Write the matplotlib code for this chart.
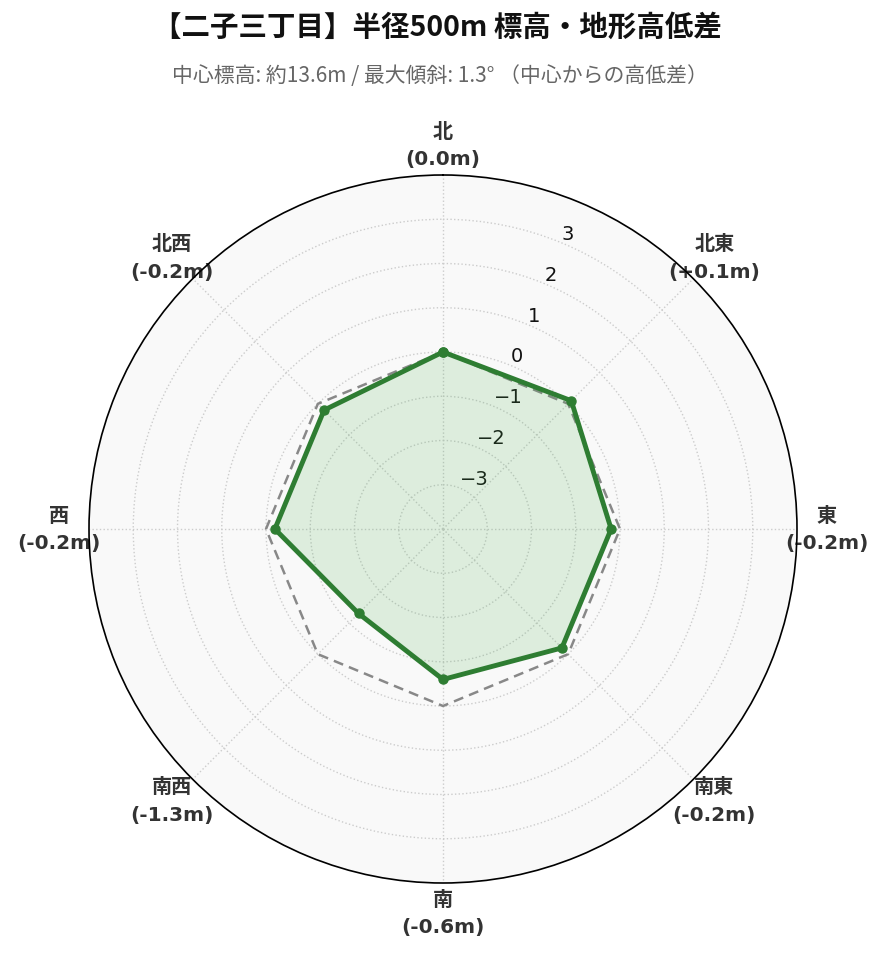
import numpy as np
import matplotlib.pyplot as plt

plt.rcParams['font.family'] = ['DejaVu Sans', 'Noto Sans CJK JP']

directions = ['北', '北東', '東', '南東', '南', '南西', '西', '北西']
diffs = [0.0, 0.1, -0.2, -0.2, -0.6, -1.3, -0.2, -0.2]
rticks = [-3, -2, -1, 0, 1, 2, 3]

angles = np.deg2rad(np.arange(0, 360, 45))
ang_c = np.append(angles, angles[0])
vals_c = np.append(diffs, diffs[0])
zero_c = np.zeros_like(ang_c)

fig = plt.figure(figsize=(8.85, 9.62), dpi=100)
ax = fig.add_axes([89/885, 78/962, 708/885, 708/962], projection='polar')
ax.set_theta_zero_location('N')
ax.set_theta_direction(-1)
ax.set_facecolor('#f9f9f9')

ax.plot(ang_c, zero_c, color='#888888', lw=1.8, ls=(0, (4, 2.5)), zorder=2)
ax.fill(ang_c, vals_c, color='#4caf50', alpha=0.16, zorder=3)
ax.plot(ang_c, vals_c, color='#2e7d32', lw=3.5, marker='o', ms=6.5, zorder=4)

ax.set_ylim(-4, 4)
ax.set_yticks(rticks)
ax.set_rlabel_position(22.5)
ax.tick_params(axis='y', labelsize=14, colors='#111111')

labels = []
for d, v in zip(directions, diffs):
    s = f'+{v:.1f}' if v > 0 else f'{v:.1f}'
    labels.append(f'{d}\n({s}m)')
ax.set_xticks(angles)
ax.set_xticklabels(labels, fontsize=14.5, fontweight='bold', color='#333333', linespacing=1.55)
ax.tick_params(axis='x', pad=11)

ax.grid(True, color='#cccccc', ls=':', lw=1)
ax.spines['polar'].set_color('black')
ax.spines['polar'].set_linewidth(1.2)

fig.text(0.494, 1 - 28/962, '【二子三丁目】半径500m 標高・地形高低差', ha='center', va='center',
         fontsize=20.5, fontweight='bold', family='Noto Sans CJK JP', color='#111111')
fig.text(0.497, 1 - 76/962, '中心標高: 約13.6m / 最大傾斜: 1.3° （中心からの高低差）', ha='center', va='center',
         fontsize=15, family='Noto Sans CJK JP', color='#666666')

fig.savefig('out.png', dpi=100)
